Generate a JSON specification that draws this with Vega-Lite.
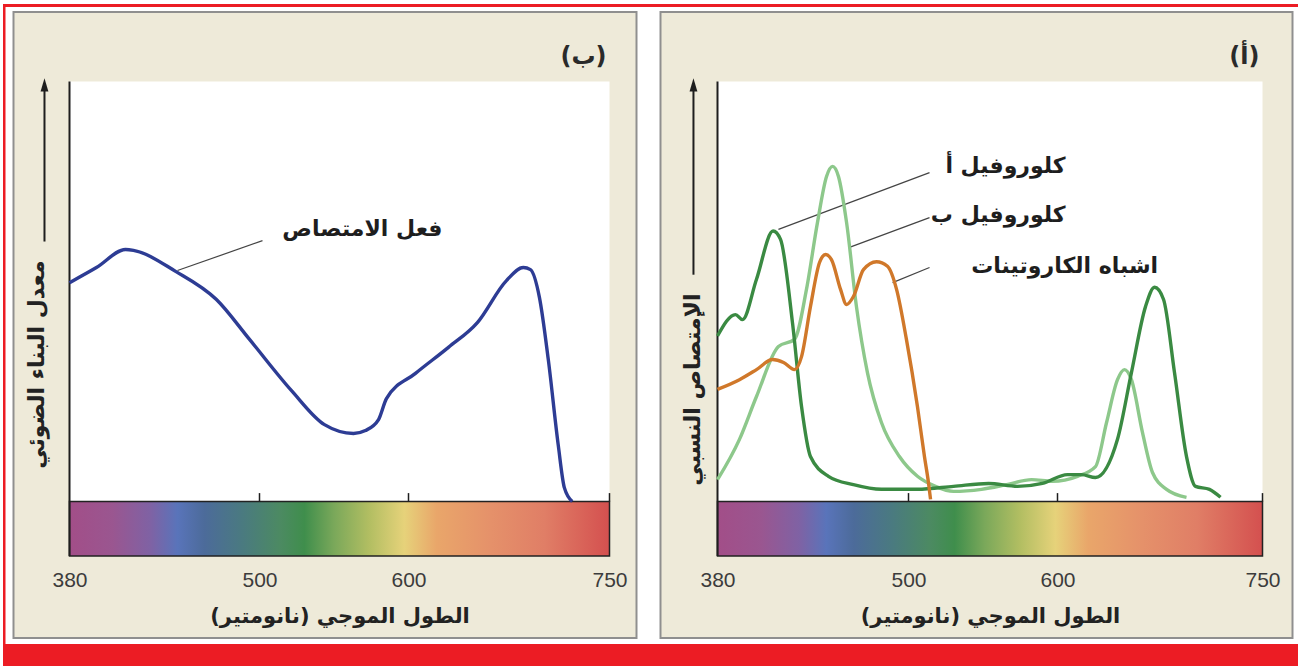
{
  "$schema": "https://vega.github.io/schema/vega-lite/v6.json",
  "padding": {"left": 3, "top": 4, "right": 0, "bottom": 0},
  "background": "white",
  "datasets": {
    "frame": [{"x0": 380, "x1": 750, "yb": -13, "y0": 0, "yt": 100}],
    "ticks": [{"wl": 500}, {"wl": 600}, {"wl": 750}],
    "arrowB": [{"wl": 364.2, "from": 61.9, "to": 99.2}],
    "arrowA": [{"wl": 364.9, "from": 54.0, "to": 99.2}],
    "action": [
      {"wl": 380, "v": 52.1}, {"wl": 397, "v": 55.7}, {"wl": 415.4, "v": 60.0}, {"wl": 420.4, "v": 59.8},
      {"wl": 447, "v": 54.8}, {"wl": 472.8, "v": 48.1}, {"wl": 493.7, "v": 38.6}, {"wl": 521.5, "v": 26.4},
      {"wl": 543.6, "v": 18.3}, {"wl": 563.1, "v": 16.2}, {"wl": 571.1, "v": 16.9}, {"wl": 579.9, "v": 19.5},
      {"wl": 585.2, "v": 24.5}, {"wl": 605.2, "v": 30.5}, {"wl": 629.8, "v": 36.7}, {"wl": 651.4, "v": 42.6},
      {"wl": 673.1, "v": 52.6}, {"wl": 685.7, "v": 55.7}, {"wl": 691, "v": 55.2}, {"wl": 697.7, "v": 48.6},
      {"wl": 704.4, "v": 33.6}, {"wl": 711.8, "v": 13.3}, {"wl": 716.3, "v": 3.3}, {"wl": 722.2, "v": 0}
    ],
    "absorb": [
      {"p": "كلوروفيل ب", "wl": 380, "v": 5.2}, {"p": "كلوروفيل ب", "wl": 393.8, "v": 14.8},
      {"p": "كلوروفيل ب", "wl": 404.5, "v": 25.0}, {"p": "كلوروفيل ب", "wl": 418.3, "v": 36.9},
      {"p": "كلوروفيل ب", "wl": 428.4, "v": 38.6}, {"p": "كلوروفيل ب", "wl": 435.9, "v": 50.5},
      {"p": "كلوروفيل ب", "wl": 442.8, "v": 66.4}, {"p": "كلوروفيل ب", "wl": 448.5, "v": 77.4},
      {"p": "كلوروفيل ب", "wl": 452.3, "v": 79.8}, {"p": "كلوروفيل ب", "wl": 456.0, "v": 77.4},
      {"p": "كلوروفيل ب", "wl": 461.1, "v": 66.4}, {"p": "كلوروفيل ب", "wl": 467.3, "v": 46.4},
      {"p": "كلوروفيل ب", "wl": 474.2, "v": 30.7}, {"p": "كلوروفيل ب", "wl": 483.0, "v": 18.8},
      {"p": "كلوروفيل ب", "wl": 494.3, "v": 10.7}, {"p": "كلوروفيل ب", "wl": 506.0, "v": 6.0},
      {"p": "كلوروفيل ب", "wl": 518.1, "v": 3.6}, {"p": "كلوروفيل ب", "wl": 530.2, "v": 2.4},
      {"p": "كلوروفيل ب", "wl": 549.0, "v": 2.9}, {"p": "كلوروفيل ب", "wl": 565.8, "v": 4.0},
      {"p": "كلوروفيل ب", "wl": 582.6, "v": 5.2}, {"p": "كلوروفيل ب", "wl": 596.6, "v": 4.8},
      {"p": "كلوروفيل ب", "wl": 614.6, "v": 6.0}, {"p": "كلوروفيل ب", "wl": 627.8, "v": 8.3},
      {"p": "كلوروفيل ب", "wl": 635.9, "v": 18.8}, {"p": "كلوروفيل ب", "wl": 643.9, "v": 29.0},
      {"p": "كلوروفيل ب", "wl": 649.0, "v": 31.4}, {"p": "كلوروفيل ب", "wl": 654.1, "v": 29.0},
      {"p": "كلوروفيل ب", "wl": 662.2, "v": 16.4}, {"p": "كلوروفيل ب", "wl": 669.5, "v": 6.9},
      {"p": "كلوروفيل ب", "wl": 679.8, "v": 2.9}, {"p": "كلوروفيل ب", "wl": 694.4, "v": 1.0},
      {"p": "كلوروفيل أ", "wl": 380, "v": 39.4}, {"p": "كلوروفيل أ", "wl": 391.3, "v": 44.5},
      {"p": "كلوروفيل أ", "wl": 395.7, "v": 43.3}, {"p": "كلوروفيل أ", "wl": 404.5, "v": 52.9},
      {"p": "كلوروفيل أ", "wl": 414.9, "v": 64.4}, {"p": "كلوروفيل أ", "wl": 419.6, "v": 62.4},
      {"p": "كلوروفيل أ", "wl": 427.1, "v": 42.6}, {"p": "كلوروفيل أ", "wl": 432.8, "v": 22.6},
      {"p": "كلوروفيل أ", "wl": 438.4, "v": 10.7}, {"p": "كلوروفيل أ", "wl": 449.7, "v": 6.0},
      {"p": "كلوروفيل أ", "wl": 465.4, "v": 4.0}, {"p": "كلوروفيل أ", "wl": 483.0, "v": 2.9},
      {"p": "كلوروفيل أ", "wl": 506.0, "v": 2.9}, {"p": "كلوروفيل أ", "wl": 530.2, "v": 3.6},
      {"p": "كلوروفيل أ", "wl": 553.7, "v": 4.3}, {"p": "كلوروفيل أ", "wl": 573.2, "v": 3.6},
      {"p": "كلوروفيل أ", "wl": 589.9, "v": 4.3}, {"p": "كلوروفيل أ", "wl": 607.3, "v": 6.4},
      {"p": "كلوروفيل أ", "wl": 617.6, "v": 6.4}, {"p": "كلوروفيل أ", "wl": 627.8, "v": 5.7},
      {"p": "كلوروفيل أ", "wl": 643.9, "v": 14.8}, {"p": "كلوروفيل أ", "wl": 654.1, "v": 30.7},
      {"p": "كلوروفيل أ", "wl": 664.4, "v": 46.4}, {"p": "كلوروفيل أ", "wl": 671.0, "v": 51.0},
      {"p": "كلوروفيل أ", "wl": 677.6, "v": 48.1}, {"p": "كلوروفيل أ", "wl": 685.6, "v": 30.7},
      {"p": "كلوروفيل أ", "wl": 694.4, "v": 10.7}, {"p": "كلوروفيل أ", "wl": 701.0, "v": 3.6},
      {"p": "كلوروفيل أ", "wl": 711.2, "v": 2.9}, {"p": "كلوروفيل أ", "wl": 719.3, "v": 1.0},
      {"p": "اشباه الكاروتينات", "wl": 380, "v": 26.7}, {"p": "اشباه الكاروتينات", "wl": 393.8, "v": 29.0},
      {"p": "اشباه الكاروتينات", "wl": 404.5, "v": 31.4}, {"p": "اشباه الكاروتينات", "wl": 414.6, "v": 33.8},
      {"p": "اشباه الكاروتينات", "wl": 421.5, "v": 33.1}, {"p": "اشباه الكاروتينات", "wl": 428.4, "v": 31.4},
      {"p": "اشباه الكاروتينات", "wl": 432.8, "v": 34.5}, {"p": "اشباه الكاروتينات", "wl": 438.4, "v": 46.4},
      {"p": "اشباه الكاروتينات", "wl": 444.1, "v": 56.9}, {"p": "اشباه الكاروتينات", "wl": 447.9, "v": 58.8},
      {"p": "اشباه الكاروتينات", "wl": 451.6, "v": 57.6}, {"p": "اشباه الكاروتينات", "wl": 457.3, "v": 50.5},
      {"p": "اشباه الكاروتينات", "wl": 461.1, "v": 46.9}, {"p": "اشباه الكاروتينات", "wl": 465.4, "v": 48.8},
      {"p": "اشباه الكاروتينات", "wl": 471.7, "v": 55.2}, {"p": "اشباه الكاروتينات", "wl": 479.9, "v": 57.1},
      {"p": "اشباه الكاروتينات", "wl": 486.8, "v": 56.0}, {"p": "اشباه الكاروتينات", "wl": 492.5, "v": 50.5},
      {"p": "اشباه الكاروتينات", "wl": 498.7, "v": 38.6}, {"p": "اشباه الكاروتينات", "wl": 506.0, "v": 22.6},
      {"p": "اشباه الكاروتينات", "wl": 510.7, "v": 10.7}, {"p": "اشباه الكاروتينات", "wl": 513.4, "v": 4.5},
      {"p": "اشباه الكاروتينات", "wl": 514.8, "v": 0.5}
    ],
    "leadB": [{"xa": 502.0, "ya": 62.1, "xb": 448.2, "yb": 55.0}],
    "leadA": [
      {"xa": 514.1, "ya": 78.3, "xb": 418.3, "yb": 64.8},
      {"xa": 514.1, "ya": 67.6, "xb": 462.9, "yb": 60.5},
      {"xa": 514.1, "ya": 55.7, "xb": 490.0, "yb": 52.1}
    ],
    "textB": [{"wl": 625.4, "v": 64.8, "label": "فعل الامتصاص"}],
    "textA": [
      {"wl": 605.9, "v": 79.8, "label": "كلوروفيل أ"},
      {"wl": 605.9, "v": 68.3, "label": "كلوروفيل ب"},
      {"wl": 673.6, "v": 56.0, "label": "اشباه الكاروتينات"}
    ],
    "dot": [{"k": 1}]
  },
  "spacing": 0,
  "vconcat": [
    {
      "width": 1295, "height": 3,
      "data": {"name": "dot"},
      "mark": {"type": "point", "opacity": 0, "size": 0},
      "encoding": {},
      "view": {"fill": "#EC1C24", "stroke": null}
    },
    {
      "spacing": 6.5,
      "center": true,
      "hconcat": [
        {
          "width": 2.5, "height": 637,
          "data": {"name": "dot"},
          "mark": {"type": "point", "opacity": 0, "size": 0},
          "encoding": {},
          "view": {"fill": "#EC1C24", "stroke": null}
        },
        {
          "spacing": 22,
          "hconcat": [
            {
              "width": 623, "height": 626,
              "view": {"fill": "#EEEAD9", "stroke": "#8F8F8F", "strokeWidth": 2},
              "title": {"text": "(ب)", "anchor": "end", "frame": "group", "offset": -57, "dx": -30, "fontSize": 24, "font": "DejaVu Sans", "fontWeight": "bold", "color": "#2a2a2a"},
              "layer": [
                {
                  "data": {"name": "frame"},
                  "mark": {"type": "rect", "fill": "white"},
                  "encoding": {
                    "x": {"field": "x0", "type": "quantitative",
                      "scale": {"domain": [380, 500, 600, 750], "range": [56, 246, 395, 596], "nice": false, "zero": false},
                      "axis": {"values": [380, 500, 600, 750], "orient": "bottom", "offset": -68.5, "domain": false, "ticks": false, "tickSize": 0, "grid": false, "labelPadding": 0, "labelFontSize": 21, "labelFont": "Liberation Sans", "labelColor": "#3c3c3c", "labelFlush": false, "labelOverlap": false, "format": "d",
                        "title": "الطول الموجي (نانومتير)", "titleFont": "DejaVu Sans", "titleFontSize": 21, "titleFontWeight": "bold", "titleColor": "#222222", "titlePadding": 15}},
                    "x2": {"field": "x1"},
                    "y": {"field": "y0", "type": "quantitative",
                      "scale": {"domain": [0, 100], "range": [489.5, 69.5], "nice": false, "zero": false},
                      "axis": {"orient": "left", "domain": false, "ticks": false, "labels": false, "grid": false,
                        "title": "معدل البناء الضوئي", "titleFont": "DejaVu Sans", "titleFontSize": 22, "titleFontWeight": "bold", "titleColor": "#222222",
                        "titleX": 23, "titleY": 248, "titleAlign": "right", "titleBaseline": "middle", "titleAngle": 270}},
                    "y2": {"field": "yt"}
                  }
                },
                {
                  "data": {"name": "frame"},
                  "mark": {"type": "rect", "stroke": "#222222", "strokeWidth": 1.5,
                    "fill": {"gradient": "linear", "x1": 0, "y1": 0, "x2": 1, "y2": 0, "stops": [
                      {"offset": 0, "color": "#A24E88"}, {"offset": 0.08, "color": "#9A5690"}, {"offset": 0.15, "color": "#7F62A4"},
                      {"offset": 0.2, "color": "#5974BA"}, {"offset": 0.25, "color": "#4C6B9A"}, {"offset": 0.32, "color": "#4A7A80"},
                      {"offset": 0.39, "color": "#4C8A62"}, {"offset": 0.435, "color": "#3F8E4C"}, {"offset": 0.49, "color": "#7AA85A"},
                      {"offset": 0.555, "color": "#B2BE62"}, {"offset": 0.62, "color": "#E6D27A"}, {"offset": 0.68, "color": "#E9A66A"},
                      {"offset": 0.78, "color": "#E5916A"}, {"offset": 0.88, "color": "#E07E66"}, {"offset": 1, "color": "#D4504F"}]}},
                  "encoding": {
                    "x": {"field": "x0", "type": "quantitative"},
                    "x2": {"field": "x1"},
                    "y": {"field": "yb", "type": "quantitative"},
                    "y2": {"field": "y0"}
                  }
                },
                {
                  "data": {"name": "frame"},
                  "mark": {"type": "rule", "stroke": "#1e1e1e", "strokeWidth": 2},
                  "encoding": {
                    "x": {"field": "x0", "type": "quantitative"},
                    "y": {"field": "yb", "type": "quantitative"},
                    "y2": {"field": "yt"}
                  }
                },
                {
                  "data": {"name": "ticks"},
                  "mark": {"type": "rule", "stroke": "#1e1e1e", "strokeWidth": 1.5},
                  "encoding": {
                    "x": {"field": "wl", "type": "quantitative"},
                    "y": {"datum": 0, "type": "quantitative"},
                    "y2": {"datum": 2}
                  }
                },
                {
                  "data": {"name": "arrowB"},
                  "mark": {"type": "rule", "stroke": "#1e1e1e", "strokeWidth": 2},
                  "encoding": {
                    "x": {"field": "wl", "type": "quantitative"},
                    "y": {"field": "from", "type": "quantitative"},
                    "y2": {"field": "to"}
                  }
                },
                {
                  "data": {"name": "arrowB"},
                  "mark": {"type": "point", "shape": "M0,-1L0.6,1L-0.6,1Z", "size": 170, "filled": true, "color": "#1e1e1e", "opacity": 1},
                  "encoding": {
                    "x": {"field": "wl", "type": "quantitative"},
                    "y": {"field": "to", "type": "quantitative"}
                  }
                },
                {
                  "data": {"name": "leadB"},
                  "mark": {"type": "rule", "stroke": "#444444", "strokeWidth": 1.2},
                  "encoding": {
                    "x": {"field": "xa", "type": "quantitative"},
                    "y": {"field": "ya", "type": "quantitative"},
                    "x2": {"field": "xb"},
                    "y2": {"field": "yb"}
                  }
                },
                {
                  "data": {"name": "action"},
                  "mark": {"type": "line", "stroke": "#2D3C94", "strokeWidth": 3.4, "interpolate": "monotone"},
                  "encoding": {
                    "x": {"field": "wl", "type": "quantitative"},
                    "y": {"field": "v", "type": "quantitative"}
                  }
                },
                {
                  "data": {"name": "textB"},
                  "mark": {"type": "text", "align": "right", "baseline": "middle", "font": "DejaVu Sans", "fontWeight": "bold", "fontSize": 22, "color": "#1e1e1e"},
                  "encoding": {
                    "x": {"field": "wl", "type": "quantitative"},
                    "y": {"field": "v", "type": "quantitative"},
                    "text": {"field": "label"}
                  }
                }
              ]
            },
            {
              "width": 632, "height": 626,
              "view": {"fill": "#EEEAD9", "stroke": "#8F8F8F", "strokeWidth": 2},
              "title": {"text": "(أ)", "anchor": "end", "frame": "group", "offset": -57, "dx": -33, "fontSize": 24, "font": "DejaVu Sans", "fontWeight": "bold", "color": "#2a2a2a"},
              "layer": [
                {
                  "data": {"name": "frame"},
                  "mark": {"type": "rect", "fill": "white"},
                  "encoding": {
                    "x": {"field": "x0", "type": "quantitative",
                      "scale": {"domain": [380, 500, 600, 750], "range": [57, 248, 397, 602], "nice": false, "zero": false},
                      "axis": {"values": [380, 500, 600, 750], "orient": "bottom", "offset": -68.5, "domain": false, "ticks": false, "tickSize": 0, "grid": false, "labelPadding": 0, "labelFontSize": 21, "labelFont": "Liberation Sans", "labelColor": "#3c3c3c", "labelFlush": false, "labelOverlap": false, "format": "d",
                        "title": "الطول الموجي (نانومتير)", "titleFont": "DejaVu Sans", "titleFontSize": 21, "titleFontWeight": "bold", "titleColor": "#222222", "titlePadding": 15}},
                    "x2": {"field": "x1"},
                    "y": {"field": "y0", "type": "quantitative",
                      "scale": {"domain": [0, 100], "range": [489.5, 69.5], "nice": false, "zero": false},
                      "axis": {"orient": "left", "domain": false, "ticks": false, "labels": false, "grid": false,
                        "title": "الإمتصاص النسبي", "titleFont": "DejaVu Sans", "titleFontSize": 22, "titleFontWeight": "bold", "titleColor": "#222222",
                        "titleX": 32, "titleY": 281, "titleAlign": "right", "titleBaseline": "middle", "titleAngle": 270}},
                    "y2": {"field": "yt"}
                  }
                },
                {
                  "data": {"name": "frame"},
                  "mark": {"type": "rect", "stroke": "#222222", "strokeWidth": 1.5,
                    "fill": {"gradient": "linear", "x1": 0, "y1": 0, "x2": 1, "y2": 0, "stops": [
                      {"offset": 0, "color": "#A24E88"}, {"offset": 0.08, "color": "#9A5690"}, {"offset": 0.15, "color": "#7F62A4"},
                      {"offset": 0.2, "color": "#5974BA"}, {"offset": 0.25, "color": "#4C6B9A"}, {"offset": 0.32, "color": "#4A7A80"},
                      {"offset": 0.39, "color": "#4C8A62"}, {"offset": 0.435, "color": "#3F8E4C"}, {"offset": 0.49, "color": "#7AA85A"},
                      {"offset": 0.555, "color": "#B2BE62"}, {"offset": 0.62, "color": "#E6D27A"}, {"offset": 0.68, "color": "#E9A66A"},
                      {"offset": 0.78, "color": "#E5916A"}, {"offset": 0.88, "color": "#E07E66"}, {"offset": 1, "color": "#D4504F"}]}},
                  "encoding": {
                    "x": {"field": "x0", "type": "quantitative"},
                    "x2": {"field": "x1"},
                    "y": {"field": "yb", "type": "quantitative"},
                    "y2": {"field": "y0"}
                  }
                },
                {
                  "data": {"name": "frame"},
                  "mark": {"type": "rule", "stroke": "#1e1e1e", "strokeWidth": 2},
                  "encoding": {
                    "x": {"field": "x0", "type": "quantitative"},
                    "y": {"field": "yb", "type": "quantitative"},
                    "y2": {"field": "yt"}
                  }
                },
                {
                  "data": {"name": "ticks"},
                  "mark": {"type": "rule", "stroke": "#1e1e1e", "strokeWidth": 1.5},
                  "encoding": {
                    "x": {"field": "wl", "type": "quantitative"},
                    "y": {"datum": 0, "type": "quantitative"},
                    "y2": {"datum": 2}
                  }
                },
                {
                  "data": {"name": "arrowA"},
                  "mark": {"type": "rule", "stroke": "#1e1e1e", "strokeWidth": 2},
                  "encoding": {
                    "x": {"field": "wl", "type": "quantitative"},
                    "y": {"field": "from", "type": "quantitative"},
                    "y2": {"field": "to"}
                  }
                },
                {
                  "data": {"name": "arrowA"},
                  "mark": {"type": "point", "shape": "M0,-1L0.6,1L-0.6,1Z", "size": 170, "filled": true, "color": "#1e1e1e", "opacity": 1},
                  "encoding": {
                    "x": {"field": "wl", "type": "quantitative"},
                    "y": {"field": "to", "type": "quantitative"}
                  }
                },
                {
                  "data": {"name": "leadA"},
                  "mark": {"type": "rule", "stroke": "#444444", "strokeWidth": 1.2},
                  "encoding": {
                    "x": {"field": "xa", "type": "quantitative"},
                    "y": {"field": "ya", "type": "quantitative"},
                    "x2": {"field": "xb"},
                    "y2": {"field": "yb"}
                  }
                },
                {
                  "data": {"name": "absorb"},
                  "mark": {"type": "line", "strokeWidth": 3.4, "interpolate": "monotone"},
                  "encoding": {
                    "x": {"field": "wl", "type": "quantitative"},
                    "y": {"field": "v", "type": "quantitative"},
                    "color": {"field": "p", "type": "nominal", "legend": null,
                      "scale": {"domain": ["كلوروفيل ب", "كلوروفيل أ", "اشباه الكاروتينات"], "range": ["#8DC88B", "#3A8A42", "#D0782A"]}},
                    "order": {"field": "wl", "type": "quantitative"}
                  }
                },
                {
                  "data": {"name": "textA"},
                  "mark": {"type": "text", "align": "right", "baseline": "middle", "font": "DejaVu Sans", "fontWeight": "bold", "fontSize": 22, "color": "#1e1e1e"},
                  "encoding": {
                    "x": {"field": "wl", "type": "quantitative"},
                    "y": {"field": "v", "type": "quantitative"},
                    "text": {"field": "label"}
                  }
                }
              ]
            }
          ]
        },
        {
          "width": 2.5, "height": 637,
          "data": {"name": "dot"},
          "mark": {"type": "point", "opacity": 0, "size": 0},
          "encoding": {},
          "view": {"fill": "#EC1C24", "stroke": null}
        }
      ]
    },
    {
      "width": 1295, "height": 22,
      "data": {"name": "dot"},
      "mark": {"type": "point", "opacity": 0, "size": 0},
      "encoding": {},
      "view": {"fill": "#EC1C24", "stroke": null}
    }
  ],
  "config": {
    "font": "DejaVu Sans",
    "axis": {"grid": false}
  }
}
